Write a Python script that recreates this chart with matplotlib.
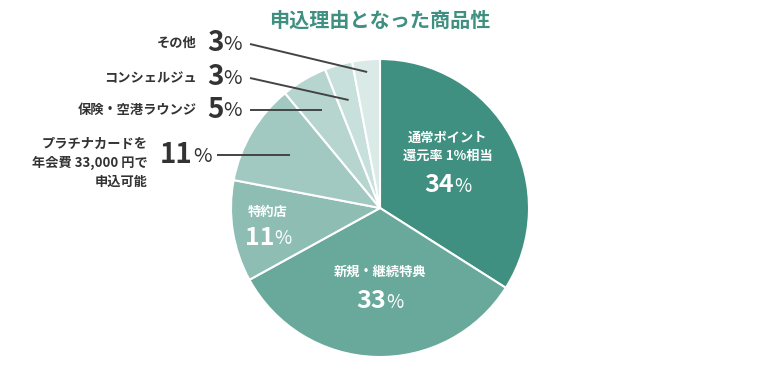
import matplotlib.pyplot as plt
import numpy as np

plt.rcParams['font.family'] = ['Noto Sans CJK JP', 'DejaVu Sans']

# データ
labels = ['通常ポイント\n還元率 1%相当', '新規・継続特典', '特約店',
          'プラチナカードを\n年会費 33,000 円で\n申込可能', '保険・空港ラウンジ',
          'コンシェルジュ', 'その他']
values = [34, 33, 11, 11, 5, 3, 3]
colors = ['#3f9080', '#68a99b', '#8dbdb3', '#a1c9c1', '#b6d5cf', '#c8e0dc', '#d9eae7']

W, H = 760, 370
fig = plt.figure(figsize=(W / 100, H / 100), dpi=100)
ax = fig.add_axes([0, 0, 1, 1])

cx, cy, R = 380, H - 208, 149
wedges, _ = ax.pie(values, colors=colors, startangle=90, counterclock=False,
                   center=(cx, cy), radius=R, frame=True,
                   wedgeprops=dict(edgecolor='white', linewidth=1.5))
ax.set_xlim(0, W)
ax.set_ylim(0, H)
ax.axis('off')

def Y(py):
    return H - py

fig.canvas.draw()
renderer = fig.canvas.get_renderer()

def pct(x, y, num, s1, s2, color, ha='left', gap=0):
    t1 = ax.text(x, y, str(num), fontsize=s1, fontweight='bold', color=color,
                 ha='left', va='center')
    bb = t1.get_window_extent(renderer)
    t2 = ax.text(0, y, '%', fontsize=s2, color=color, ha='left', va='center')
    bb2 = t2.get_window_extent(renderer)
    total = bb.width + gap + bb2.width
    x0 = x - total / 2 if ha == 'center' else x
    t1.set_x(x0)
    t2.set_x(x0 + bb.width + gap)
    t2.set_y(y - 1)

# タイトル
ax.text(380, Y(20), '申込理由となった商品性', fontsize=14.5, fontweight='bold',
        color='#3f9080', ha='center', va='center')

# 円内ラベル
ax.text(448, Y(147), labels[0], fontsize=9.5, fontweight='bold', color='white',
        ha='center', va='center', linespacing=1.4)
pct(448, Y(185), values[0], 18, 13.5, 'white', ha='center')
ax.text(380, Y(272), labels[1], fontsize=9.5, fontweight='bold', color='white',
        ha='center', va='center')
pct(380, Y(301), values[1], 18, 13.5, 'white', ha='center')
ax.text(268, Y(212), labels[2], fontsize=9.5, fontweight='bold', color='white',
        ha='center', va='center')
pct(268, Y(238), values[2], 18, 13.5, 'white', ha='center')

# 円外ラベルと引き出し線
ang = 90 - 360 * (np.cumsum(values) - np.array(values) / 2) / 100
outer = [
    # idx, label x, label y, pct x, pct y, line start (x, y), line end y
    (6, 197, 43, 207, 43, 250, 44, 72),
    (5, 197, 78, 207, 77, 250, 78, 100),
    (4, 197, 110, 207, 110, 250, 110, 110),
    (3, 148, 163, 160, 155, 217, 155, 155),
]
dark = '#333333'
for i, lx, ly, px, py, sx, sy, ey in outer:
    ax.text(lx, Y(ly), labels[i], fontsize=9.5, fontweight='bold', color=dark,
            ha='right', va='center', multialignment='right', linespacing=1.45)
    pct(px, Y(py), values[i], 20, 14.5, dark)
    a = np.deg2rad(ang[i])
    dy = Y(ey) - cy
    ex = cx + dy / np.tan(a)
    ax.plot([sx, ex], [Y(sy), Y(ey)], color='#444444', lw=1.4, solid_capstyle='butt')

fig.savefig('out.png', dpi=100)
